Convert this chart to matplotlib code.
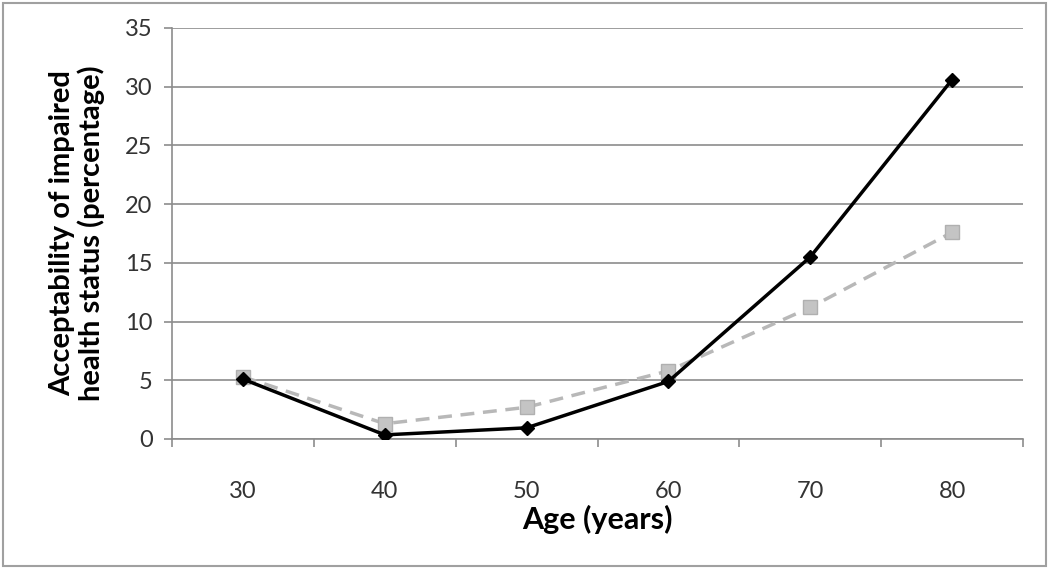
import matplotlib
matplotlib.use('Agg')
import matplotlib.pyplot as plt
from matplotlib.patches import Rectangle

ages = ['30', '40', '50', '60', '70', '80']
black_series = [5.1, 0.35, 0.95, 4.9, 15.5, 30.6]
gray_series = [5.3, 1.3, 2.7, 5.8, 11.2, 17.6]
y_ticks = [0, 5, 10, 15, 20, 25, 30, 35]

plt.rcParams['font.family'] = ['Lato', 'DejaVu Sans']

fig = plt.figure(figsize=(10.5, 5.69), dpi=100)
ax = fig.add_axes([0.1638, 0.2285, 0.8105, 0.7223])

x = list(range(len(ages)))
ax.plot(x, gray_series, color='#b8b8b8', linestyle=(0, (4, 2.5)), linewidth=2.5,
        marker='s', markersize=10, markerfacecolor='#c4c4c4',
        markeredgecolor='#b0b0b0', zorder=3)
ax.plot(x, black_series, color='black', linewidth=2.5,
        marker='D', markersize=7, zorder=4)

ax.set_xlim(-0.5, len(ages) - 0.5)
ax.set_ylim(0, 35)
ax.set_yticks(y_ticks)
ax.grid(axis='y', color='#8c8c8c', linewidth=1.2)
ax.set_axisbelow(True)

# category labels centred, tick marks between categories
ax.set_xticks(x)
ax.set_xticklabels(ages)
ax.set_xticks([i - 0.5 for i in range(len(ages) + 1)], minor=True)
ax.tick_params(axis='x', which='major', length=0, pad=30, labelsize=17,
               labelcolor='#333333')
ax.tick_params(axis='x', which='minor', length=6, color='#8c8c8c', width=1.2)
ax.tick_params(axis='y', length=6, color='#8c8c8c', width=1.2, pad=8,
               labelsize=17, labelcolor='#333333')

for side in ['top', 'right']:
    ax.spines[side].set_visible(False)
for side in ['left', 'bottom']:
    ax.spines[side].set_color('#8c8c8c')
    ax.spines[side].set_linewidth(1.2)

ax.set_xlabel('Age (years)', fontsize=22, fontweight='bold', labelpad=2)
ax.set_ylabel('Acceptability of impaired\nhealth status (percentage)',
              fontsize=21, fontweight='bold', labelpad=14, linespacing=1.1)

# outer frame around the whole chart
fig.patches.append(Rectangle((0.003, 0.005), 0.993, 0.99, transform=fig.transFigure,
                             fill=False, edgecolor='#a0a0a0', linewidth=1.5))

fig.savefig('out.png', dpi=100)
